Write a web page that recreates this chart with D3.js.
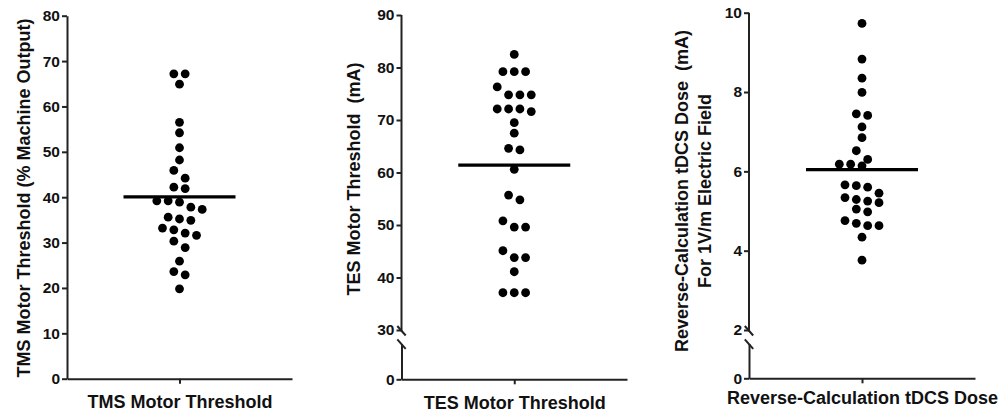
<!DOCTYPE html>
<html>
<head>
<meta charset="utf-8">
<script src="https://cdn.jsdelivr.net/npm/d3@7"></script>
<style>
  body { margin: 0; background: #fff; }
  svg text { font-family: "Liberation Sans", Arial, sans-serif; font-weight: bold; fill: #111; }
  .axis path, .axis line { stroke: #222; stroke-width: 2px; }
  .axis text { font-size: 15.5px; }
  .xaxis text { font-size: 18px; }
</style>
</head>
<body>
<svg id="chart"></svg>
<script>
'use strict';

// values (29 subjects each)
var tmsValues = [67.2, 67.2, 64.9, 56.5, 54.2, 50.9, 48.2, 45.9, 44.2, 42.2, 41.9, 39.2, 38.9, 39.2,
                 37.3, 37.8, 35.2, 34.9, 35.6, 32.8, 33.2, 31.6, 32.1, 30.3, 28.9, 25.9, 23.6, 22.9, 19.8];
var tesValues = [82.5, 79.2, 79.2, 79.2, 76.3, 74.8, 74.8, 74.8, 72.1, 71.6, 72.1, 72.1, 69.5, 67.5,
                 64.3, 64.6, 60.6, 54.8, 55.7, 49.6, 49.6, 50.8, 45.1, 43.8, 43.8, 41.1, 37.1, 37.1, 37.1];
var tdcsValues = [9.73, 8.83, 8.35, 7.99, 7.45, 7.41, 7.12, 6.85, 6.52, 6.18, 6.14, 6.18, 6.30, 5.64,
                  5.60, 5.66, 5.45, 5.25, 5.29, 5.34, 5.21, 5.05, 4.98, 4.69, 4.63, 4.63, 4.76, 4.34, 3.76];

var tmsTicks = [0, 10, 20, 30, 40, 50, 60, 70, 80];
var tesTicks = [30, 40, 50, 60, 70, 80, 90];
var tdcsTicks = [2, 4, 6, 8, 10];

var categories = ["TMS Motor Threshold", "TES Motor Threshold", "Reverse-Calculation tDCS Dose"];
var yTitles = [
  ["TMS Motor Threshold (% Machine Output)"],
  ["TES Motor Threshold  (mA)"],
  ["Reverse-Calculation tDCS Dose  (mA)", "For 1V/m Electric Field"]
];

var width = 1007,
    height = 418;

var R = 4.4,       // dot radius
    HALF = 5.67;   // half a column slot

var svg = d3.select("#chart")
    .attr("width", width)
    .attr("height", height);

var panels = [
  { values: tmsValues, ticks: tmsTicks, domain: [0, 80], x0: 67, x1: 292, top: 15.7, bottom: 378.7,
    brk: null, labelX: 30, labelY: 198, labelPad: 11.5 },
  { values: tesValues, ticks: tesTicks, domain: [30, 90], x0: 401.5, x1: 627, top: 15, bottom: 379.3,
    brk: 330, labelX: 360, labelY: 179, labelPad: 11.5 },
  { values: tdcsValues, ticks: tdcsTicks, domain: [2, 10], x0: 749, x1: 975, top: 12.7, bottom: 378.3,
    brk: 330, labelX: 688, labelY: 191, labelPad: 8 }
];

panels.forEach(function(p, i) { drawPanel(p, i); });

function drawPanel(p, i) {
    var g = svg.append("g");

    var x = d3.scalePoint()
        .domain([categories[i]])
        .range([p.x0, p.x1])
        .padding(0.5);

    var y = d3.scaleLinear()
        .domain(p.domain)
        .range([p.brk === null ? p.bottom : p.brk, p.top]);

    // y axis (upper part)
    var yAxis = g.append("g")
        .attr("class", "axis")
        .attr("transform", "translate(" + p.x0 + ",0)")
        .call(d3.axisLeft(y).tickValues(p.ticks).tickSize(5).tickSizeOuter(0).tickPadding(2).tickFormat(d3.format("d")));

    if (p.brk !== null) {
        // lower stub with the 0 tick, below the axis break
        var yLow = d3.scaleLinear()
            .domain([0, 1])
            .range([p.bottom, p.brk + 13.5]);

        yAxis.select(".domain").attr("d", "M0," + p.top + "V" + (p.brk + 1));

        g.append("g")
            .attr("class", "axis")
            .attr("transform", "translate(" + p.x0 + ",0)")
            .call(d3.axisLeft(yLow).tickValues([0]).tickSize(5).tickSizeOuter(0).tickPadding(2).tickFormat(d3.format("d")));

        // break marks
        [[-4, 8], [9.3, 17.7]].forEach(function(o) {
            g.append("line")
                .attr("x1", p.x0 - 4.2).attr("y1", p.brk + o[0])
                .attr("x2", p.x0 + 4.2).attr("y2", p.brk + o[0] + 9.5)
                .attr("stroke", "#222")
                .attr("stroke-width", 2);
        });
    }

    // x axis, category name sits in the tick label
    g.append("g")
        .attr("class", "axis xaxis")
        .attr("transform", "translate(0," + p.bottom + ")")
        .call(d3.axisBottom(x).tickSize(5).tickSizeOuter(0).tickPadding(p.labelPad));

    // y title, rotated
    var title = g.append("text")
        .attr("transform", "translate(" + p.labelX + "," + p.labelY + ") rotate(-90)")
        .attr("text-anchor", "middle")
        .style("font-size", "18px");

    title.selectAll("tspan")
        .data(yTitles[i])
      .enter().append("tspan")
        .attr("x", 0)
        .attr("dy", function(d, j) { return j === 0 ? 0 : 23.4; })
        .style("white-space", "pre")
        .text(function(d) { return d; });

    // dots
    var pts = swarm(p.values, y, x(categories[i]));

    g.selectAll(".dot")
        .data(pts)
      .enter().append("circle")
        .attr("class", "dot")
        .attr("cx", function(d) { return d.x; })
        .attr("cy", function(d) { return d.y; })
        .attr("r", R)
        .attr("fill", "#000");

    // mean line
    var m = d3.mean(p.values);
    g.append("line")
        .attr("x1", x(categories[i]) - 56)
        .attr("x2", x(categories[i]) + 56)
        .attr("y1", y(m))
        .attr("y2", y(m))
        .attr("stroke", "#000")
        .attr("stroke-width", 3.2);
}

// prism-like column scatter: group into rows, centre each row, nudge to avoid overlap
function swarm(values, y, cx) {
    var pts = values.map(function(v) { return { v: v, y: y(v) }; })
        .sort(function(a, b) { return a.y - b.y; });

    var rows = [], row = null;
    pts.forEach(function(pt) {
        if (!row || pt.y - row[0].y > 2 * R) { row = [pt]; rows.push(row); }
        else row.push(pt);
    });

    var placed = [];
    var shifts = [0, 1, -1, 2, -2, 3, -3, 4, -4];
    rows.forEach(function(r) {
        var n = r.length;
        for (var k = 0; k < shifts.length; k++) {
            var s = shifts[k];
            var ok = r.every(function(pt, j) {
                var px = cx + (2 * j - (n - 1) + s) * HALF;
                return placed.every(function(q) {
                    return Math.hypot(q.x - px, q.y - pt.y) >= 2 * R - 0.3;
                });
            });
            if (ok || k === shifts.length - 1) {
                r.forEach(function(pt, j) {
                    pt.x = cx + (2 * j - (n - 1) + s) * HALF;
                    placed.push(pt);
                });
                break;
            }
        }
    });
    return placed;
}
</script>
</body>
</html>
